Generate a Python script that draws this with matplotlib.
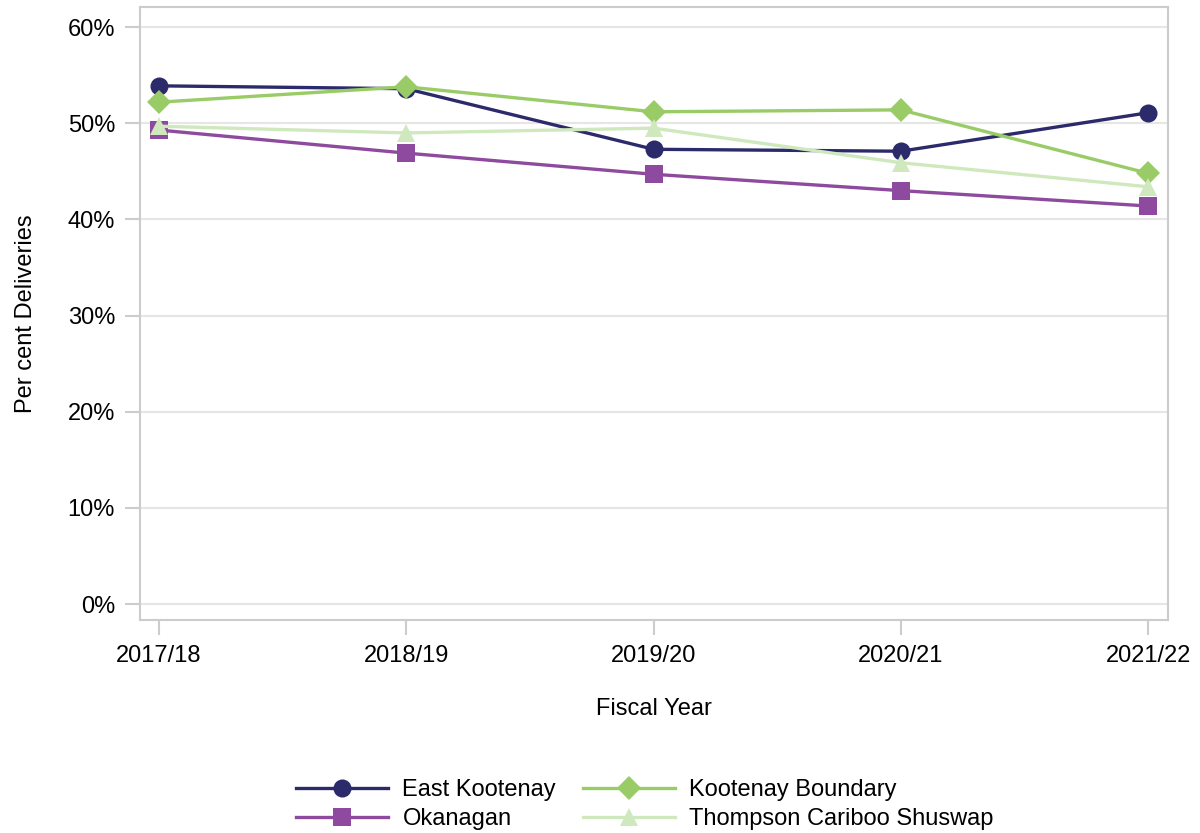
import matplotlib.pyplot as plt
from matplotlib.ticker import FuncFormatter

plt.rcParams['font.family'] = ['Liberation Sans', 'DejaVu Sans']

years = ["2017/18", "2018/19", "2019/20", "2020/21", "2021/22"]
east_kootenay = [53.9, 53.6, 47.3, 47.1, 51.1]
kootenay_boundary = [52.2, 53.8, 51.2, 51.4, 44.8]
okanagan = [49.3, 46.9, 44.7, 43.0, 41.4]
thompson = [49.7, 49.0, 49.5, 45.9, 43.4]

series = [
    ("East Kootenay", east_kootenay, "#2b2a6b", "o"),
    ("Kootenay Boundary", kootenay_boundary, "#99cc66", "D"),
    ("Okanagan", okanagan, "#8e4a9e", "s"),
    ("Thompson Cariboo Shuswap", thompson, "#cfe8bd", "^"),
]

FS = 17

fig = plt.figure(figsize=(12, 8.33), dpi=100)
ax = fig.add_axes([0.1167, 0.2557, 0.8566, 0.7359])

x = list(range(len(years)))
handles = {}
for name, vals, color, mk in series:
    ms = {"o": 13, "D": 12, "s": 12.5, "^": 13}[mk]
    (h,) = ax.plot(x, vals, color=color, marker=mk, markersize=ms, linewidth=2.4,
                   markeredgewidth=0, label=name)
    handles[name] = h

ax.set_xlim(-0.077, 4.08)
ax.set_ylim(-1.66, 62.1)
ax.set_yticks([0, 10, 20, 30, 40, 50, 60])
ax.yaxis.set_major_formatter(FuncFormatter(lambda v, _: f"{v:.0f}%"))
ax.set_xticks(x)
ax.set_xticklabels(years)

ax.grid(axis="y", color="#e6e6e6", linewidth=1.5)
ax.set_axisbelow(True)
for s in ax.spines.values():
    s.set_color("#cccccc")
    s.set_linewidth(1.5)
ax.tick_params(axis="both", colors="#cccccc", labelcolor="black", labelsize=FS,
               length=11, width=1.5, pad=7)

ax.set_xlabel("Fiscal Year", fontsize=FS, labelpad=22)
ax.set_ylabel("Per cent Deliveries", fontsize=FS, labelpad=22)

order = ["East Kootenay", "Okanagan", "Kootenay Boundary", "Thompson Cariboo Shuswap"]
fig.legend([handles[n] for n in order], order, loc="center", ncol=2,
           bbox_to_anchor=(0.5375, 0.034), frameon=False, fontsize=FS,
           handlelength=3.9, handletextpad=0.6, columnspacing=1.15,
           labelspacing=0.3, borderpad=0)

fig.savefig("out.png", dpi=100)
